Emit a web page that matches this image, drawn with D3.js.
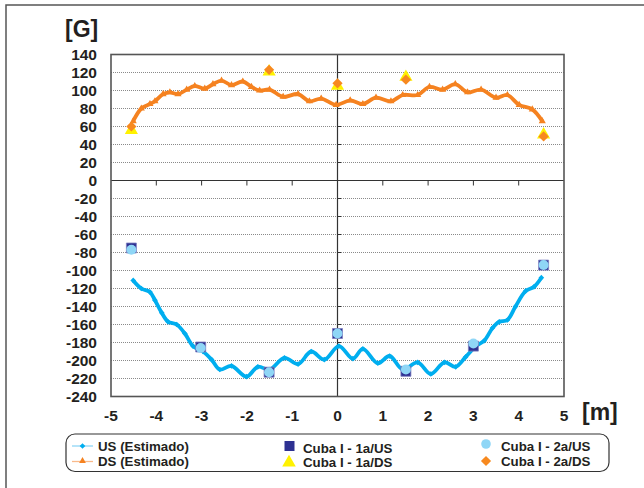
<!DOCTYPE html>
<html><head><meta charset="utf-8">
<script src="https://cdn.jsdelivr.net/npm/d3@7"></script>
<style>
html,body{margin:0;padding:0;background:#fff;}
svg{display:block;}
text{font-family:"Liberation Sans",Arial,sans-serif;font-weight:bold;fill:#231f20;}
</style></head>
<body>
<svg id="chart" width="644" height="488"></svg>
<script>
// ---- Data ----
const usEstX = [-4.51,-4.33,-4.14,-4.03,-3.88,-3.74,-3.55,-3.37,-3.19,-2.97,-2.78,-2.60,-2.34,-2.01,-1.76,-1.50,-1.17,-0.87,-0.58,-0.29,0.03,0.34,0.56,0.89,1.15,1.44,1.77,2.06,2.36,2.61,2.83,3.06,3.24,3.42,3.57,3.75,3.93,4.15,4.34,4.50];
const usEstY = [-111,-120,-124,-133,-147,-157,-160,-170,-184,-190,-199,-210,-206,-218,-207,-210,-197,-204,-190,-199,-184,-198,-187,-203,-195,-210,-202,-215,-202,-207,-196,-184,-178,-164,-157,-155,-140,-123,-118,-108];
const dsEstX = [-4.51,-4.33,-4.14,-4.03,-3.85,-3.70,-3.52,-3.33,-3.15,-2.93,-2.75,-2.56,-2.34,-2.09,-1.90,-1.72,-1.50,-1.20,-0.87,-0.62,-0.36,-0.03,0.28,0.56,0.85,1.18,1.44,1.77,2.03,2.32,2.60,2.87,3.17,3.50,3.75,4.01,4.30,4.52];
const dsEstY = [66,80,85,88,96,98,96,101,105,102,107,111,106,110,104,100,101,93,96,88,91,84,89,85,92,88,95,95,104,101,107,98,101,92,95,84,79,66];
const usMeasX = [-4.55,-3.02,-1.51,0,1.51,3.0,4.55];
const cuba1aUS = [-75,-185,-213,-170,-212,-184,-94];
const cuba2aUS = [-77,-186,-213,-170,-210,-181,-94];
const dsMeasX = [-4.55,-1.51,0,1.51,4.55];
const cuba1aDS = [56,121,105,115,51];
const cuba2aDS = [60,123,108,112,49];
const xTicks = [-5,-4,-3,-2,-1,0,1,2,3,4,5];
const yTicks = [140,120,100,80,60,40,20,0,-20,-40,-60,-80,-100,-120,-140,-160,-180,-200,-220,-240];
const legendLabels = ["US (Estimado)","DS (Estimado)","Cuba I - 1a/US","Cuba I - 1a/DS","Cuba I - 2a/US","Cuba I - 2a/DS"];

// ---- Colors ----
const cUS = "#00aeef", cDS = "#f58220", cSq = "#2e3192", cCirc = "#8fd6f6", cTri = "#fff200", cDia = "#f7891f";

const svg = d3.select("#chart");
const L = 111, R = 564, T = 54.5, B = 396.5;
const x = d3.scaleLinear().domain([-5,5]).range([L,R]);
const y = d3.scaleLinear().domain([-240,140]).range([B,T]);

// outer frame
svg.append("rect").attr("x",6).attr("y",5).attr("width",700).attr("height",600)
  .attr("fill","none").attr("stroke","#555").attr("stroke-width",1.5);

// grid lines
svg.append("g").selectAll("line").data(yTicks.filter(v=>v!==0 && v!==140 && v!==-240)).join("line")
  .attr("x1",L).attr("x2",R).attr("y1",d=>y(d)).attr("y2",d=>y(d))
  .attr("stroke","#8a8a8a").attr("stroke-width",1).attr("stroke-dasharray","1,1");

// zero axes
svg.append("line").attr("x1",L).attr("x2",R).attr("y1",y(0)).attr("y2",y(0)).attr("stroke","#333").attr("stroke-width",1.2);
svg.append("g").selectAll("line").data(xTicks.filter(v=>v>-5&&v<5)).join("line")
  .attr("x1",d=>x(d)).attr("x2",d=>x(d)).attr("y1",y(0)).attr("y2",y(0)+5).attr("stroke","#333").attr("stroke-width",1);
svg.append("line").attr("x1",x(0)).attr("x2",x(0)).attr("y1",T).attr("y2",B).attr("stroke","#333").attr("stroke-width",1.2);
svg.append("g").selectAll("line").data(yTicks.filter(v=>v<140&&v>-240&&v!==0)).join("line")
  .attr("x1",x(0)).attr("x2",x(0)+3.5).attr("y1",d=>y(d)).attr("y2",d=>y(d)).attr("stroke","#333").attr("stroke-width",1);

// plot border
svg.append("rect").attr("x",L).attr("y",T).attr("width",R-L).attr("height",B-T)
  .attr("fill","none").attr("stroke","#555").attr("stroke-width",1.6);

// tick labels
svg.append("g").selectAll("text").data(yTicks).join("text")
  .attr("x",97).attr("y",d=>y(d)).attr("dy","0.36em").attr("text-anchor","end")
  .attr("font-size","15.5px").text(d=>d);
svg.append("g").selectAll("text").data(xTicks).join("text")
  .attr("x",d=>x(d)).attr("y",421).attr("text-anchor","middle")
  .attr("font-size","15.5px").text(d=>d);
svg.append("text").attr("x",65).attr("y",37).attr("font-size","23px").text("[G]");
svg.append("text").attr("x",582).attr("y",420).attr("font-size","23px").text("[m]");

// estimated curves
const usData = usEstX.map((v,i)=>[v,usEstY[i]]);
const dsData = dsEstX.map((v,i)=>[v,dsEstY[i]]);
const line = d3.line().x(d=>x(d[0])).y(d=>y(d[1])).curve(d3.curveCatmullRom.alpha(0.5));
svg.append("path").datum(usData).attr("d",line).attr("fill","none").attr("stroke",cUS).attr("stroke-width",3.8);
svg.append("path").datum(dsData).attr("d",line).attr("fill","none").attr("stroke",cDS).attr("stroke-width",3.8);
const smallSq = d3.symbol().type(d3.symbolSquare).size(16);
const triSmall = d3.symbol().type(d3.symbolTriangle).size(22);
svg.append("g").selectAll("path").data(usData).join("path").attr("d",smallSq)
  .attr("transform",d=>`translate(${x(d[0])},${y(d[1])}) rotate(45)`).attr("fill",cUS);
svg.append("g").selectAll("path").data(dsData).join("path").attr("d",triSmall)
  .attr("transform",d=>`translate(${x(d[0])},${y(d[1])})`).attr("fill",cDS);

// measured markers
const sq = d3.symbol().type(d3.symbolSquare).size(100);
const circ = d3.symbol().type(d3.symbolCircle).size(78);
const tri = d3.symbol().type(d3.symbolTriangle).size(75);
const dia = d3.symbol().type(d3.symbolSquare).size(52);
svg.append("g").selectAll("path").data(usMeasX.map((v,i)=>[v,cuba1aUS[i]])).join("path").attr("d",sq)
  .attr("transform",d=>`translate(${x(d[0])},${y(d[1])})`).attr("fill",cSq).attr("stroke","#7d80c0").attr("stroke-width",0.8);
svg.append("g").selectAll("path").data(usMeasX.map((v,i)=>[v,cuba2aUS[i]])).join("path").attr("d",circ)
  .attr("transform",d=>`translate(${x(d[0])},${y(d[1])})`).attr("fill",cCirc);
svg.append("g").selectAll("path").data(dsMeasX.map((v,i)=>[v,cuba1aDS[i]])).join("path").attr("d",tri)
  .attr("transform",d=>`translate(${x(d[0])},${y(d[1])})`).attr("fill",cTri);
svg.append("g").selectAll("path").data(dsMeasX.map((v,i)=>[v,cuba2aDS[i]])).join("path").attr("d",dia)
  .attr("transform",d=>`translate(${x(d[0])},${y(d[1])}) rotate(45)`).attr("fill",cDia);

// legend
const lg = svg.append("g");
lg.append("rect").attr("x",66).attr("y",434).attr("width",543).attr("height",37.5).attr("rx",9)
  .attr("fill","#fff").attr("stroke","#333").attr("stroke-width",1.2);
lg.append("line").attr("x1",72).attr("x2",93).attr("y1",446).attr("y2",446).attr("stroke","#8fd6f6").attr("stroke-width",1.3);
lg.append("path").attr("d",d3.symbol().type(d3.symbolSquare).size(16)).attr("transform","translate(82.5,446) rotate(45)").attr("fill",cUS);
lg.append("line").attr("x1",72).attr("x2",93).attr("y1",461.5).attr("y2",461.5).attr("stroke","#f9b98a").attr("stroke-width",1.3);
lg.append("path").attr("d",d3.symbol().type(d3.symbolTriangle).size(20)).attr("transform","translate(82.5,461)").attr("fill",cDS);
lg.append("path").attr("d",d3.symbol().type(d3.symbolSquare).size(100)).attr("transform","translate(289.5,446)").attr("fill",cSq);
lg.append("path").attr("d",d3.symbol().type(d3.symbolTriangle).size(80)).attr("transform","translate(289,462.5)").attr("fill",cTri);
lg.append("path").attr("d",d3.symbol().type(d3.symbolCircle).size(72)).attr("transform","translate(486,444)").attr("fill",cCirc);
lg.append("path").attr("d",d3.symbol().type(d3.symbolSquare).size(52)).attr("transform","translate(486,461) rotate(45)").attr("fill",cDia);
const lpos = [[98,451],[98,466],[303,452.5],[303,467.3],[501,451],[501,466]];
lg.selectAll("text").data(legendLabels).join("text")
  .attr("x",(d,i)=>lpos[i][0]).attr("y",(d,i)=>lpos[i][1]).attr("font-size","13.3px").text(d=>d);
</script>
</body></html>
